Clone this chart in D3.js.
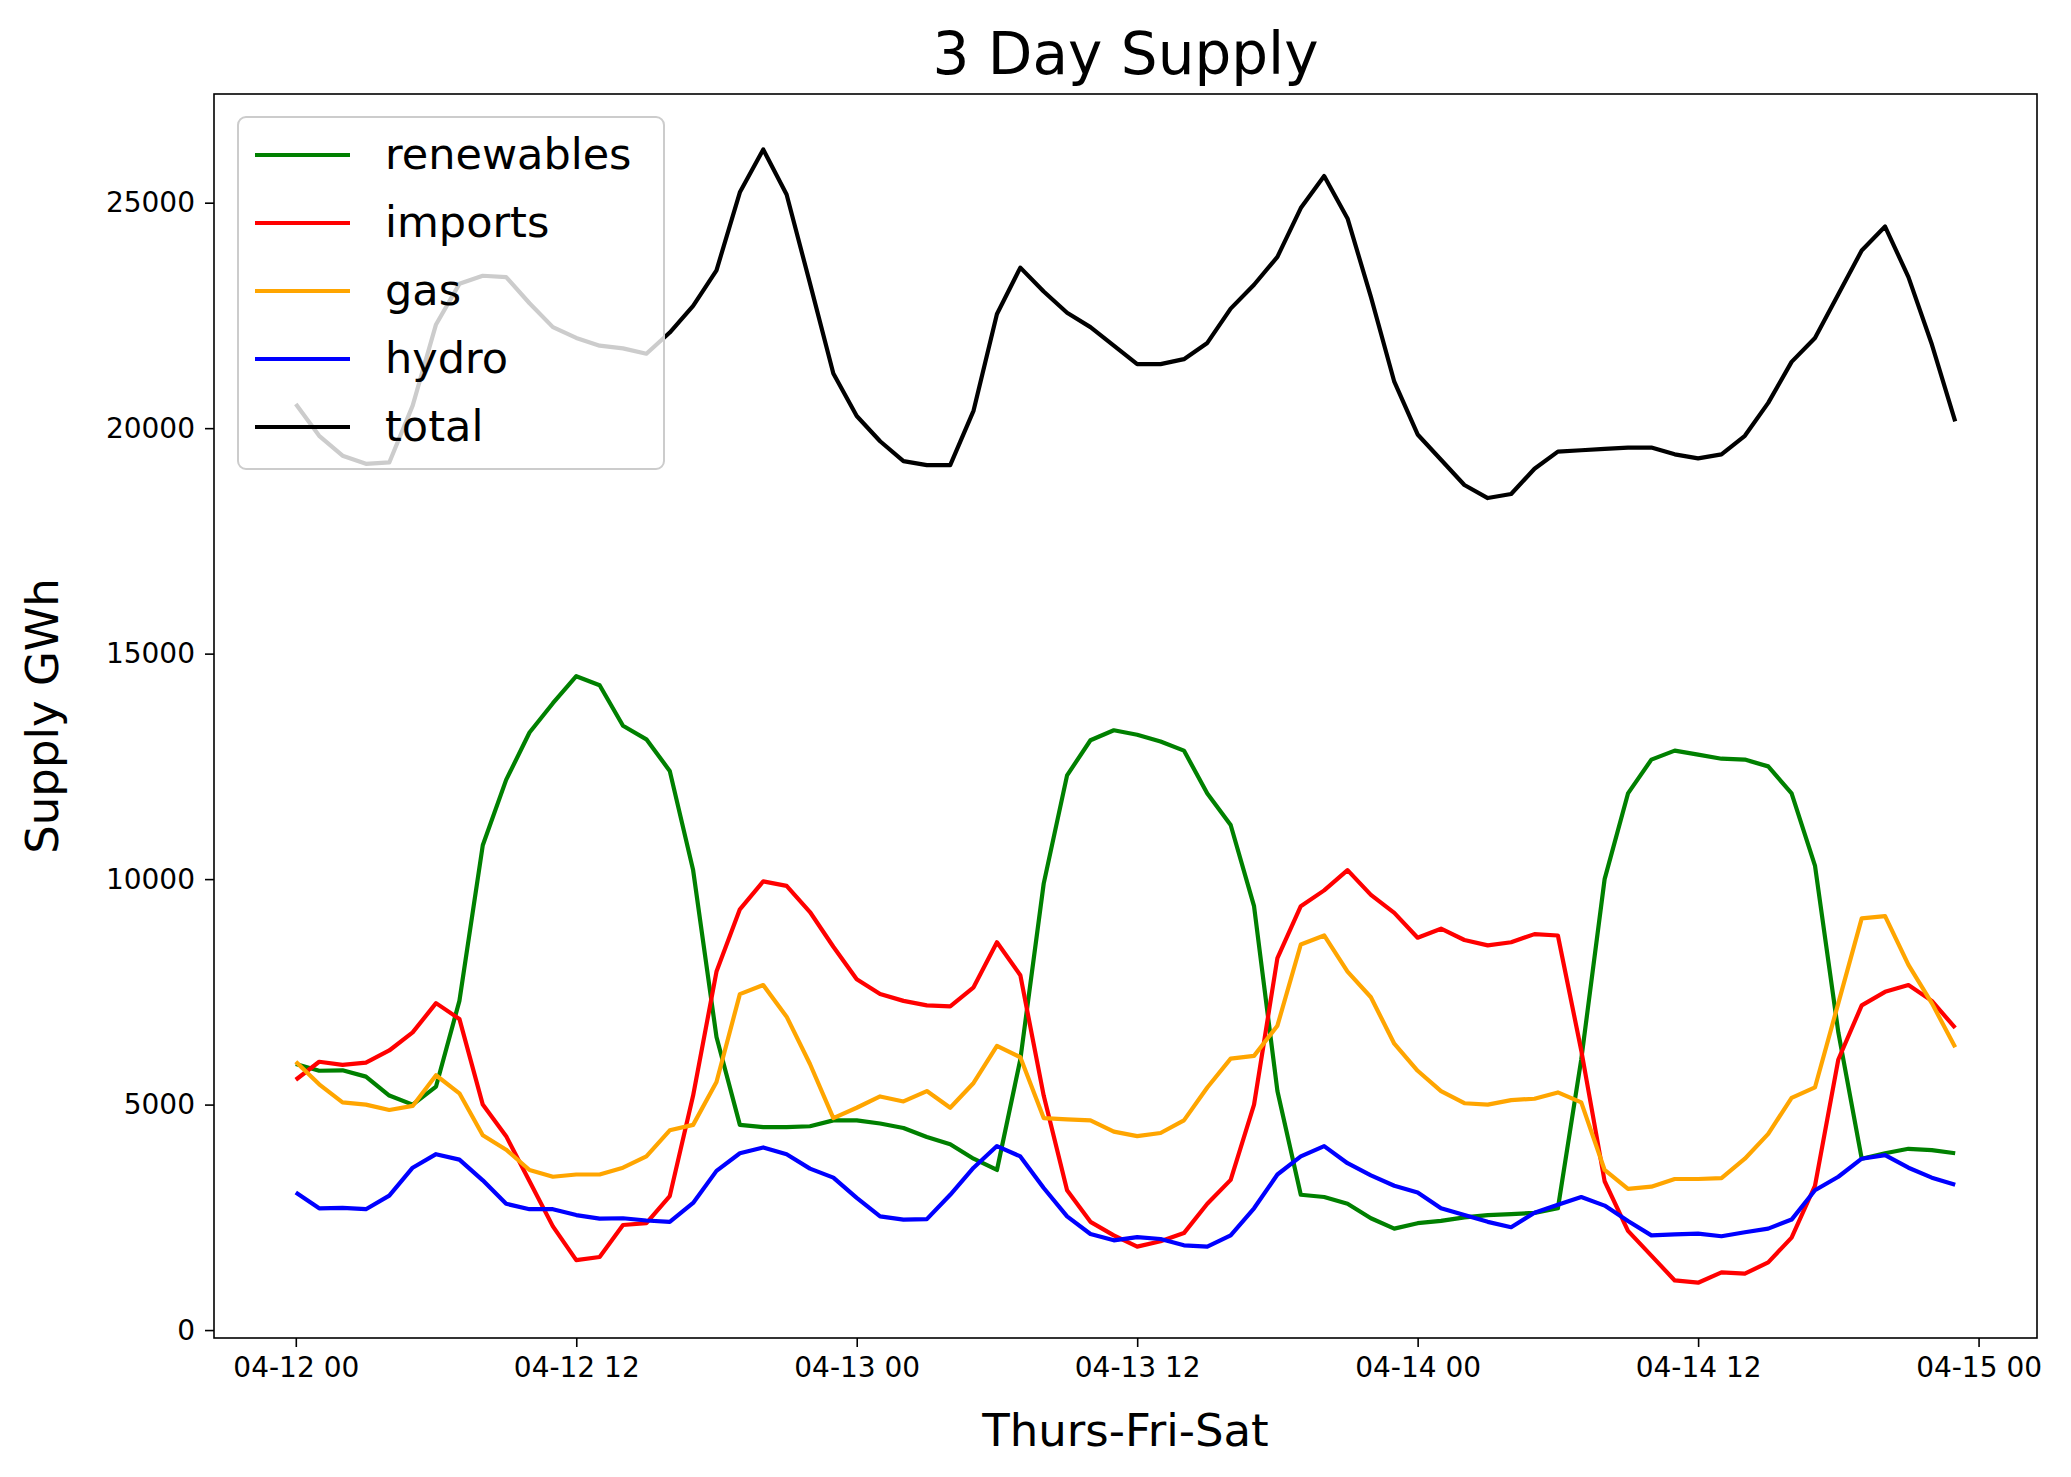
<!DOCTYPE html>
<html><head><meta charset="utf-8">
<script src="https://cdn.jsdelivr.net/npm/d3@7"></script>
<style>body{margin:0;background:#fff}svg{display:block}text{font-family:"DejaVu Sans",sans-serif}</style>
</head><body><svg id="c" width="2071" height="1477"></svg>
<script>
const hours = d3.range(72);
const renewables = [5900,5750,5760,5620,5200,5000,5400,7300,10750,12200,13250,13900,14500,14300,13400,13100,12400,10200,6500,4550,4500,4500,4520,4650,4650,4580,4480,4280,4120,3800,3550,6000,9900,12300,13080,13300,13200,13050,12850,11900,11200,9400,5300,3000,2950,2800,2480,2250,2370,2420,2500,2550,2570,2600,2700,6000,10000,11900,12650,12850,12760,12670,12650,12500,11900,10300,6600,3800,3920,4020,3990,3920];
const imports = [5550,5950,5880,5930,6200,6600,7250,6900,5000,4300,3300,2300,1550,1620,2330,2370,2970,5200,7950,9330,9950,9850,9270,8500,7780,7450,7300,7200,7180,7600,8600,7870,5200,3100,2400,2100,1850,1970,2150,2800,3330,5000,8250,9400,9750,10200,9650,9250,8700,8900,8650,8530,8600,8780,8750,6200,3300,2200,1650,1100,1050,1280,1250,1500,2050,3200,6000,7200,7500,7650,7300,6700];
const gas = [5950,5450,5050,5000,4880,4970,5650,5250,4320,4000,3550,3400,3450,3450,3600,3850,4430,4550,5500,7450,7650,6950,5900,4700,4930,5180,5070,5300,4930,5480,6300,6050,4700,4670,4650,4400,4300,4370,4650,5380,6020,6080,6750,8550,8750,7950,7380,6350,5750,5300,5030,5000,5100,5130,5270,5050,3550,3130,3180,3350,3350,3370,3800,4350,5150,5380,7250,9130,9180,8100,7250,6270];
const hydro = [3050,2700,2710,2680,2980,3600,3900,3780,3320,2800,2680,2680,2550,2470,2480,2430,2400,2820,3530,3920,4050,3900,3580,3380,2930,2520,2450,2460,3000,3600,4080,3850,3150,2520,2130,1990,2060,2020,1880,1850,2100,2700,3450,3850,4080,3700,3430,3200,3050,2700,2550,2400,2280,2600,2780,2950,2760,2420,2100,2120,2140,2080,2170,2250,2450,3100,3400,3800,3880,3600,3380,3220];
const total = [20535,19830,19390,19210,19240,20500,22300,23200,23380,23350,22770,22240,22000,21830,21770,21650,22120,22710,23500,25230,26180,25180,23210,21210,20270,19710,19270,19180,19180,20390,22530,23560,23030,22560,22240,21830,21420,21420,21530,21890,22650,23180,23800,24880,25590,24650,22910,21030,19860,19300,18740,18450,18540,19100,19480,19510,19540,19570,19570,19420,19330,19420,19830,20560,21470,22000,22970,23940,24470,23350,21860,20150];
const seriesNames = ["renewables","imports","gas","hydro","total"];
const seriesColors = ["green","red","orange","blue","black"];
const seriesData = [renewables,imports,gas,hydro,total];
const xTickHours = [0,12,24,36,48,60,72];
const xTickLabels = ["04-12 00","04-12 12","04-13 00","04-13 12","04-14 00","04-14 12","04-15 00"];
const yTicks = [0,5000,10000,15000,20000,25000];

const svg = d3.select("#c");
const L=214,R=2037,T=94,B=1338;
const x = d3.scaleLinear().domain([-3.5,74.5]).range([L,R]);
const y = d3.scaleLinear().domain([-176,27410]).range([B,T]);

const line = d3.line().x((d,i)=>x(hours[i])).y(d=>y(d));
seriesData.forEach((s,k)=>{
  svg.append("path").datum(s).attr("d",line).attr("fill","none")
    .attr("stroke",seriesColors[k]).attr("stroke-width",4.2).attr("stroke-linejoin","round");
});

const xa = svg.append("g").attr("transform",`translate(0,${B})`)
  .call(d3.axisBottom(x).tickValues(xTickHours).tickFormat((d,i)=>xTickLabels[i]).tickSize(9).tickPadding(10));
const ya = svg.append("g").attr("transform",`translate(${L},0)`)
  .call(d3.axisLeft(y).tickValues(yTicks).tickFormat(d3.format("d")).tickSize(9).tickPadding(10));
[xa,ya].forEach(a=>{a.select(".domain").remove();a.selectAll("line").attr("stroke","#000").attr("stroke-width",1.6);
  a.selectAll("text").attr("font-size",28).attr("fill","#000").attr("font-family","DejaVu Sans");});
svg.append("rect").attr("x",L).attr("y",T).attr("width",R-L).attr("height",B-T)
  .attr("fill","none").attr("stroke","#000").attr("stroke-width",1.6);

svg.append("text").attr("x",(L+R)/2).attr("y",74).attr("text-anchor","middle").attr("font-size",58).text("3 Day Supply");
svg.append("text").attr("x",(L+R)/2).attr("y",1446).attr("text-anchor","middle").attr("font-size",45).text("Thurs-Fri-Sat");
svg.append("text").attr("transform",`translate(58,${(T+B)/2}) rotate(-90)`).attr("text-anchor","middle").attr("font-size",45).text("Supply GWh");

const lg = svg.append("g");
lg.append("rect").attr("x",238).attr("y",117).attr("width",426).attr("height",352).attr("rx",8)
  .attr("fill","rgba(255,255,255,0.8)").attr("stroke","#ccc").attr("stroke-width",2);
seriesNames.forEach((n,k)=>{
  const yy = 155 + k*68;
  lg.append("line").attr("x1",255).attr("x2",350).attr("y1",yy).attr("y2",yy).attr("stroke",seriesColors[k]).attr("stroke-width",4.2);
  lg.append("text").attr("x",385).attr("y",yy+14).attr("font-size",43).text(n);
});
</script></body></html>
